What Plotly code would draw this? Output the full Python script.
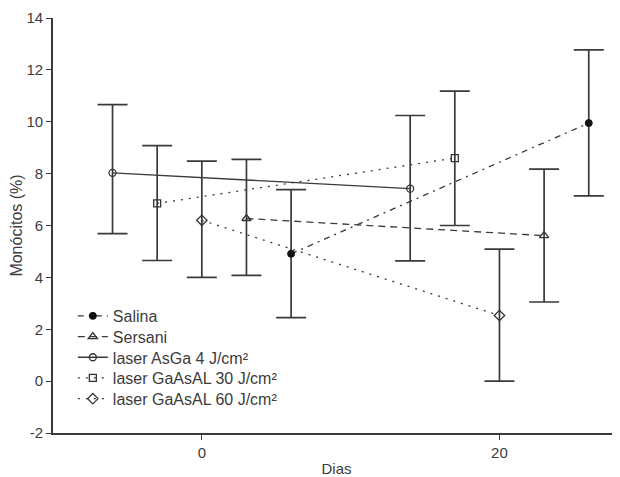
import plotly.graph_objects as go

# Data
series_names = ["Salina", "Sersani", "laser AsGa 4 J/cm²",
                "laser GaAsAL 30 J/cm²", "laser GaAsAL 60 J/cm²"]

salina_x = [6, 26]
salina_y = [4.91, 9.95]
salina_hi = [7.38, 12.77]
salina_lo = [2.45, 7.14]

sersani_x = [3, 23]
sersani_y = [6.27, 5.61]
sersani_hi = [8.55, 8.17]
sersani_lo = [4.08, 3.05]

asga4_x = [-6, 14]
asga4_y = [8.03, 7.42]
asga4_hi = [10.66, 10.24]
asga4_lo = [5.69, 4.64]

gaasal30_x = [-3, 17]
gaasal30_y = [6.85, 8.60]
gaasal30_hi = [9.08, 11.18]
gaasal30_lo = [4.65, 6.00]

gaasal60_x = [0, 20]
gaasal60_y = [6.20, 2.53]
gaasal60_hi = [8.48, 5.09]
gaasal60_lo = [4.00, 0.00]

x_ticks = [0, 20]
y_ticks = [-2, 0, 2, 4, 6, 8, 10, 12, 14]

LINE = "#3a3a3a"
TEXT = "#3c3c3c"
FONT = "Liberation Sans, Arial, sans-serif"

specs = [
    (series_names[0], salina_x, salina_y, salina_hi, salina_lo, "6px,5px,2px,5px",
     dict(symbol="circle", color="#111111", size=7, line=dict(color="#111111", width=1))),
    (series_names[1], sersani_x, sersani_y, sersani_hi, sersani_lo, "7px,5px",
     dict(symbol="triangle-up-open", color="#333333", size=8, line=dict(width=1.3))),
    (series_names[2], asga4_x, asga4_y, asga4_hi, asga4_lo, "solid",
     dict(symbol="circle-open", color="#333333", size=7, line=dict(width=1.3))),
    (series_names[3], gaasal30_x, gaasal30_y, gaasal30_hi, gaasal30_lo, "2px,6px",
     dict(symbol="square-open", color="#333333", size=7, line=dict(width=1.3))),
    (series_names[4], gaasal60_x, gaasal60_y, gaasal60_hi, gaasal60_lo, "2px,6px",
     dict(symbol="diamond-open", color="#333333", size=8, line=dict(width=1.3))),
]

PLOT_H = 469 - 10 - 44
ROW = 20.7  # legend row spacing in px

fig = go.Figure()
legend_layout = {}
for i, (name, xs, ys, hi, lo, dash, marker) in enumerate(specs):
    plus = [h - y for h, y in zip(hi, ys)]
    minus = [y - l for l, y in zip(lo, ys)]
    lg = "legend" if i == 0 else f"legend{i + 1}"
    fig.add_trace(go.Scatter(
        x=xs, y=ys, name=name, mode="lines+markers",
        line=dict(color=LINE, width=1.3, dash=dash),
        marker=marker, legend=lg,
        error_y=dict(type="data", array=plus, arrayminus=minus, visible=True,
                     color=LINE, thickness=1.7, width=15),
    ))
    legend_layout[lg] = dict(
        x=0.035, y=0.323 - i * ROW / PLOT_H, xanchor="left", yanchor="top",
        bgcolor="rgba(0,0,0,0)", font=dict(size=16, color=TEXT, family=FONT),
        itemwidth=30,
    )

# The page body adds an 8px offset, so the figure is sized to fill the rest.
fig.update_layout(
    width=612, height=469,
    margin=dict(l=45, r=0, t=10, b=44),
    paper_bgcolor="white", plot_bgcolor="white",
    font=dict(family=FONT, size=15, color=TEXT),
    showlegend=True,
    **legend_layout,
)
fig.update_xaxes(
    range=[-10, 28.1], tickvals=x_ticks, ticktext=[str(v) for v in x_ticks],
    showgrid=False, zeroline=False, showline=True, linecolor=LINE, linewidth=1.6,
    ticks="outside", ticklen=5, tickwidth=1.4, tickcolor=LINE, automargin=False,
    tickfont=dict(size=15),
    title=dict(text="Dias", standoff=10, font=dict(size=15)),
)
fig.update_yaxes(
    range=[-2, 14], tickvals=y_ticks, ticktext=[str(v) for v in y_ticks],
    showgrid=False, zeroline=False, showline=True, linecolor=LINE, linewidth=1.6,
    ticks="outside", ticklen=5, tickwidth=1.4, tickcolor=LINE, automargin=False,
    tickfont=dict(size=15),
    title=dict(text="Monócitos (%)", standoff=3, font=dict(size=16)),
)

fig.write_html("out.html")
